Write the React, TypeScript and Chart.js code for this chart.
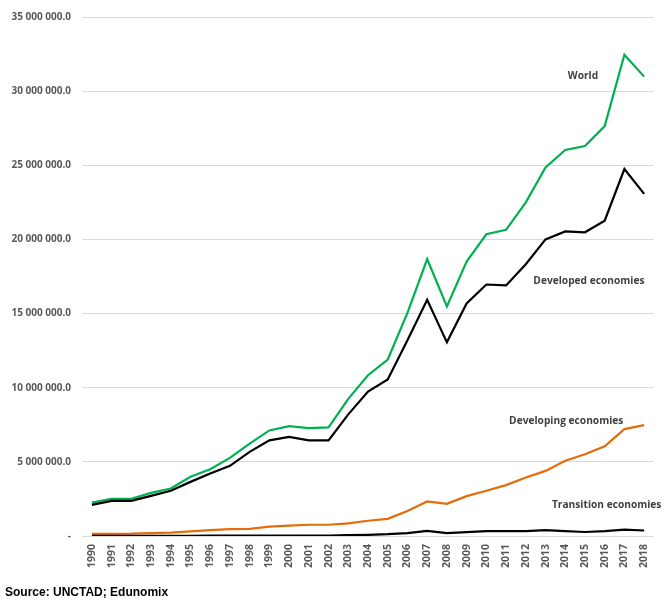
import React, { useEffect, useRef } from "react";
import { Chart, registerables } from "chart.js";

Chart.register(...registerables);

const years = ["1990","1991","1992","1993","1994","1995","1996","1997","1998","1999","2000","2001","2002","2003","2004","2005","2006","2007","2008","2009","2010","2011","2012","2013","2014","2015","2016","2017","2018"];

const world = [2250000, 2510000, 2510000, 2910000, 3200000, 3990000, 4500000, 5270000, 6230000, 7120000, 7410000, 7280000, 7330000, 9250000, 10840000, 11900000, 15050000, 18680000, 15480000, 18500000, 20350000, 20650000, 22500000, 24850000, 26030000, 26300000, 27640000, 32460000, 30980000];

const developed = [2100000, 2370000, 2370000, 2710000, 3050000, 3650000, 4210000, 4730000, 5670000, 6450000, 6680000, 6450000, 6450000, 8200000, 9740000, 10550000, 13200000, 15930000, 13060000, 15680000, 16960000, 16900000, 18330000, 20000000, 20540000, 20480000, 21260000, 24750000, 23070000];

const developing = [140000, 150000, 160000, 200000, 230000, 310000, 400000, 470000, 480000, 630000, 700000, 760000, 760000, 850000, 1030000, 1160000, 1680000, 2330000, 2170000, 2690000, 3050000, 3430000, 3940000, 4390000, 5080000, 5510000, 6050000, 7210000, 7480000];

const transition = [10000, 10000, 10000, 10000, 10000, 15000, 20000, 25000, 25000, 25000, 30000, 30000, 30000, 60000, 80000, 120000, 200000, 340000, 200000, 260000, 330000, 330000, 330000, 400000, 330000, 270000, 330000, 430000, 370000];

const yTicks = [0, 5000000, 10000000, 15000000, 20000000, 25000000, 30000000, 35000000];

const seriesLabels = [
  { text: "World", x: 24.9, y: 31000000 },
  { text: "Developed economies", x: 25.2, y: 17200000 },
  { text: "Developing economies", x: 24.05, y: 7730000 },
  { text: "Transition economies", x: 26.1, y: 2080000 },
];

const FONT = "'Open Sans', 'Noto Sans', sans-serif";

function fmt(v: number): string {
  if (v === 0) return "-";
  const s = Math.round(v).toString().replace(/\B(?=(\d{3})+(?!\d))/g, " ");
  return s + ".0";
}

const labelPlugin = {
  id: "seriesLabels",
  afterDatasetsDraw(chart: any) {
    const ctx = chart.ctx;
    const xs = chart.scales.x;
    const ys = chart.scales.y;
    ctx.save();
    ctx.font = `bold 10.2px ${FONT}`;
    ctx.fillStyle = "#404040";
    ctx.textAlign = "center";
    ctx.textBaseline = "middle";
    const step = xs.getPixelForValue(1) - xs.getPixelForValue(0);
    for (const l of seriesLabels) {
      const px = xs.getPixelForValue(0) + l.x * step;
      const py = ys.getPixelForValue(l.y);
      ctx.fillText(l.text, px, py);
    }
    ctx.restore();
  },
};

export default function App() {
  const ref = useRef<HTMLCanvasElement | null>(null);
  useEffect(() => {
    if (!ref.current) return;
    const mk = (label: string, data: number[], color: string) => ({
      label,
      data,
      borderColor: color,
      backgroundColor: color,
      borderWidth: 2.2,
      pointRadius: 0,
      tension: 0,
      fill: false,
    });
    const chart = new Chart(ref.current, {
      type: "line",
      data: {
        labels: years,
        datasets: [
          mk("Transition economies", transition, "#000000"),
          mk("Developing economies", developing, "#E46C0A"),
          mk("Developed economies", developed, "#000000"),
          mk("World", world, "#00B050"),
        ],
      },
      options: {
        animation: false,
        responsive: false,
        devicePixelRatio: 1,
        layout: { padding: { left: 0, right: 15, top: 13, bottom: 0 } },
        plugins: { legend: { display: false }, tooltip: { enabled: false } },
        scales: {
          x: {
            offset: true,
            grid: { display: false, drawTicks: false },
            border: { display: false },
            ticks: {
              minRotation: 90,
              maxRotation: 90,
              autoSkip: false,
              padding: 8,
              color: "#595959",
              font: { family: FONT, size: 10.5, weight: "bold" },
            },
            afterFit: (s: any) => { s.height = 68; },
          },
          y: {
            min: 0,
            max: 35000000,
            afterBuildTicks: (s: any) => { s.ticks = yTicks.map((v) => ({ value: v })); },
            grid: { color: "#D9D9D9", lineWidth: 1, drawTicks: false },
            border: { display: false },
            ticks: {
              padding: 11,
              color: "#595959",
              font: { family: FONT, size: 10, weight: "bold" },
              callback: (v: any) => fmt(Number(v)),
            },
            afterFit: (s: any) => { s.width = 82; },
          },
        },
      },
      plugins: [labelPlugin],
    });
    return () => chart.destroy();
  }, []);
  return (
    <div style={{ position: "fixed", left: 0, top: 0, width: 669, height: 604, background: "#fff" }}>
      <canvas ref={ref} width={669} height={604} style={{ position: "absolute", left: 0, top: 0 }} />
      <div style={{ position: "absolute", left: 5, top: 584, fontFamily: "'Liberation Sans', Arial, sans-serif", fontWeight: "bold", fontSize: 12, color: "#000", lineHeight: "16px", whiteSpace: "nowrap" }}>
        Source: UNCTAD; Edunomix
      </div>
    </div>
  );
}
